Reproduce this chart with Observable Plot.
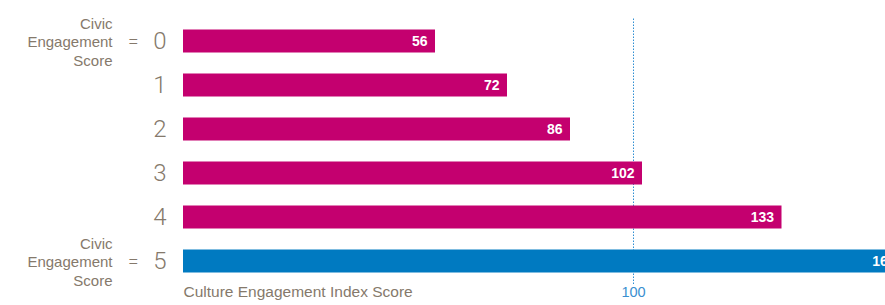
<!DOCTYPE html>
<html>
<head>
<meta charset="utf-8">
<script src="https://cdn.jsdelivr.net/npm/d3@7"></script>
<script src="https://cdn.jsdelivr.net/npm/@observablehq/plot@0.6"></script>
<style>
  html, body { margin: 0; padding: 0; background: #fff; overflow: hidden; }
  #wrap { width: 885px; height: 305px; overflow: hidden; position: relative; }
  #wrap svg { max-width: none !important; width: 930px; height: 305px; display: block; }
</style>
</head>
<body>
<div id="wrap"></div>
<script>
const scores = [0, 1, 2, 3, 4, 5];
const indexValues = [56, 72, 86, 102, 133, 160];
const valueLabels = ["56", "72", "86", "102", "133", "160"];
const barColors = ["#c4006f", "#c4006f", "#c4006f", "#c4006f", "#c4006f", "#007ac1"];
const referenceValue = [100];
const axisLabel = "Culture Engagement Index Score";
const sideLabel = "Civic\nEngagement\nScore";

const rows = scores.map((s, i) => ({score: s, value: indexValues[i], label: valueLabels[i], color: barColors[i]}));

const W = 930, marginLeft = 183;
const pxPerUnit = 4.5;
const textColor = "#85796b";

const chart = Plot.plot({
  width: W,
  height: 305,
  marginLeft,
  marginRight: 0,
  marginTop: 18.5,
  marginBottom: 22.5,
  style: {fontFamily: "'Liberation Sans', Arial, sans-serif", maxWidth: "none"},
  x: {domain: [0, (W - marginLeft) / pxPerUnit], axis: null},
  y: {domain: scores, padding: 0, axis: null},
  marks: [
    Plot.ruleX(referenceValue, {x: d => d, insetBottom: -2.5, stroke: "#2f8fd3", strokeWidth: 1, strokeDasharray: "1.5,1.5"}),
    Plot.barX(rows, {x: "value", y: "score", fill: "color", insetTop: 10.5, insetBottom: 10.5}),
    Plot.text(rows, {x: "value", y: "score", text: "label", dx: -8, textAnchor: "end", fill: "white", fontWeight: "bold", fontSize: 14}),
    Plot.axisY({tickSize: 0, tickPadding: 17, label: null, fontSize: 24, fill: textColor, fontWeight: 300, fontFamily: "Roboto, 'Liberation Sans', sans-serif", tickFormat: d => String(d)}),
    Plot.axisY([0, 5], {tickSize: 0, tickPadding: 45, label: null, fontSize: 19, fill: textColor, fontWeight: 300, fontFamily: "Roboto, 'Liberation Sans', sans-serif", tickFormat: () => "="}),
    Plot.axisY([0, 5], {tickSize: 0, tickPadding: 71, label: null, fontSize: 15, fill: textColor, lineHeight: 1.23, tickFormat: () => sideLabel}),
    Plot.text([axisLabel], {frameAnchor: "bottom-left", dy: 14, text: d => d, textAnchor: "start", fontSize: 15.5, fill: textColor}),
    Plot.text(referenceValue, {x: d => d, frameAnchor: "bottom", dy: 14, text: d => String(d), fontSize: 14.5, fill: "#3a8fd0"})
  ]
});
document.getElementById("wrap").appendChild(chart);
</script>
</body>
</html>
